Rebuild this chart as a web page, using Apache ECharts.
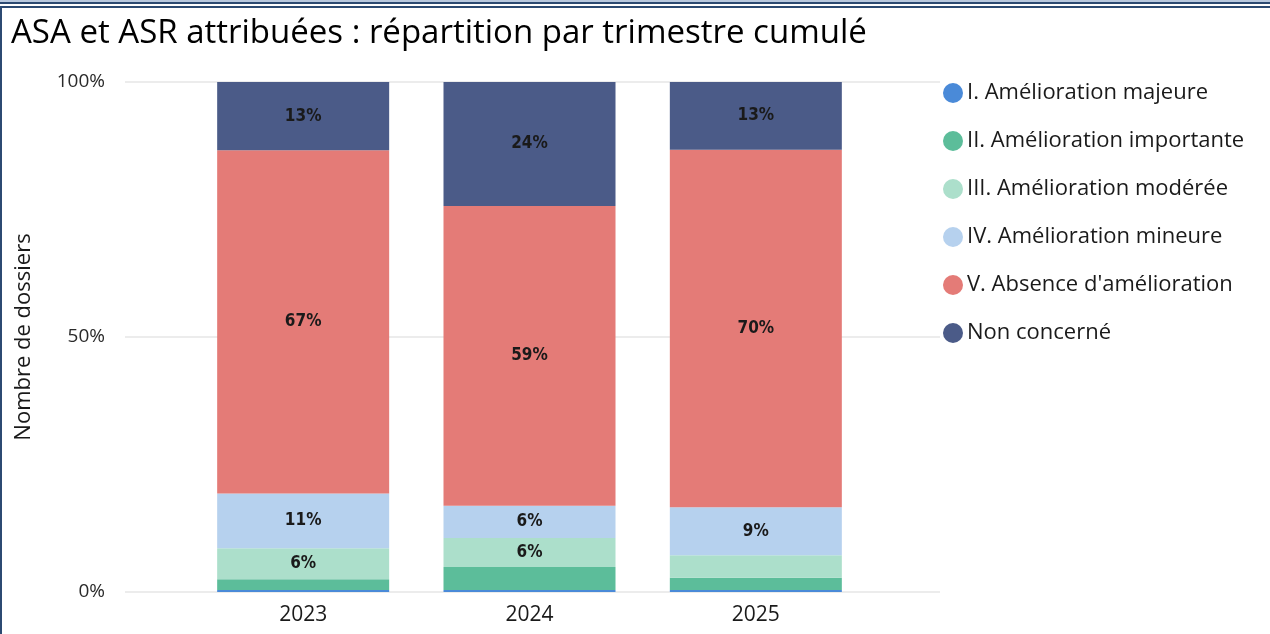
<!DOCTYPE html>
<html><head><meta charset="utf-8">
<script src="https://cdn.jsdelivr.net/npm/echarts@6/dist/echarts.min.js"></script>
<style>html,body{margin:0;padding:0;background:#fff}#c{width:1270px;height:634px}</style>
</head><body><div id="c"></div>
<script>
const categories = ['2023', '2024', '2025'];
const seriesNames = ['I. Amélioration majeure', 'II. Amélioration importante', 'III. Amélioration modérée', 'IV. Amélioration mineure', "V. Absence d'amélioration", 'Non concerné'];
const majeure = [0.4, 0.4, 0.4];
const importante = [2.1, 4.5, 2.4];
const moderee = [6.1, 5.7, 4.4];
const mineure = [10.7, 6.3, 9.4];
const absence = [67.3, 58.8, 70.1];
const nonConcerne = [13.4, 24.3, 13.3];
const yTicks = [0, 50, 100];
const colors = ['#4a8ad8', '#5cbd9a', '#acdfcb', '#b6d1ee', '#e47b77', '#4b5b88'];
const values = [majeure, importante, moderee, mineure, absence, nonConcerne];

const FONT = 'Open Sans';
const chart = echarts.init(document.getElementById('c'));
const series = values.map((v, i) => ({
  name: seriesNames[i], type: 'bar', stack: 'total', xAxisIndex: 1, yAxisIndex: 1,
  data: v, barWidth: 172, itemStyle: { color: colors[i] },
  label: { show: true, position: 'inside', fontFamily: 'DejaVu Sans Condensed', fontWeight: 'bold', fontSize: 17, color: '#1a1a1a',
    formatter: p => p.value >= 5 ? Math.round(p.value) + '%' : '' }
}));
chart.setOption({
  animation: false,
  color: colors,
  title: { text: 'ASA et ASR attribuées : répartition par trimestre cumulé', left: 6, top: 12,
    textStyle: { fontFamily: FONT, fontWeight: 'normal', fontSize: 33, color: '#000' } },
  legend: { orient: 'vertical', left: 938, top: 77, icon: 'circle', itemWidth: 20, itemHeight: 20, itemGap: 26,
    data: seriesNames, textStyle: { fontFamily: FONT, fontSize: 22, color: '#1a1a1a', padding: [0, 0, 0, -1] } },
  grid: [
    { left: 125, right: 330, top: 82, bottom: 42 },
    { left: 190, right: 401, top: 82, bottom: 42 }
  ],
  xAxis: [
    { gridIndex: 0, type: 'category', data: categories, show: false },
    { gridIndex: 1, type: 'category', data: categories, axisLine: { show: false }, axisTick: { show: false },
      axisLabel: { fontFamily: FONT, fontSize: 21, color: '#1a1a1a', margin: 13 } }
  ],
  yAxis: [
    { gridIndex: 0, type: 'value', min: yTicks[0], max: yTicks[yTicks.length - 1], interval: 50,
      name: 'Nombre de dossiers', nameLocation: 'middle', nameGap: 90, nameRotate: 90,
      nameTextStyle: { fontFamily: FONT, fontSize: 22, color: '#1a1a1a' },
      axisLabel: { formatter: '{value}%', fontFamily: FONT, fontSize: 19, color: '#2a2a2a', margin: 20 },
      splitLine: { lineStyle: { color: '#e6e6e6', width: 1.5 } }, axisLine: { show: false }, axisTick: { show: false } },
    { gridIndex: 1, type: 'value', min: 0, max: 100, show: false, splitLine: { show: false } }
  ],
  graphic: [
    { type: 'rect', shape: { x: 0, y: 0, width: 1270, height: 2 }, style: { fill: '#b9c9df' }, silent: true },
    { type: 'rect', shape: { x: 0, y: 2, width: 1270, height: 2 }, style: { fill: '#2c4a72' }, silent: true },
    { type: 'rect', shape: { x: 0, y: 6, width: 1270, height: 2 }, style: { fill: '#2c4a72' }, silent: true },
    { type: 'rect', shape: { x: 0, y: 6, width: 2, height: 628 }, style: { fill: '#2c4a72' }, silent: true }
  ],
  series: series
});
</script></body></html>
